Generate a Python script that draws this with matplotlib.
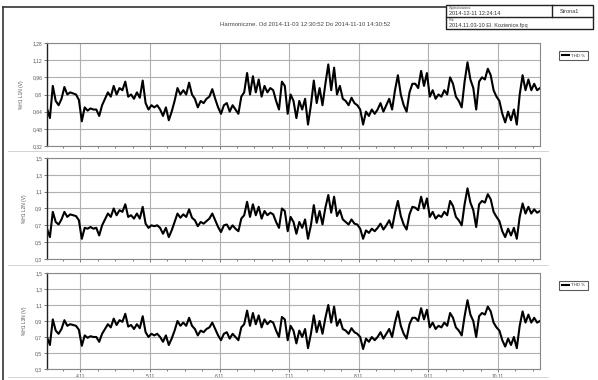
import matplotlib
matplotlib.use('Agg')
import matplotlib.pyplot as plt
import matplotlib.dates as mdates
from matplotlib.lines import Line2D
from matplotlib.patches import Rectangle
from matplotlib.ticker import FixedLocator, FuncFormatter
import pandas as pd

plt.rcParams['font.family'] = ['Liberation Sans', 'DejaVu Sans']

# pomiary co godzine
czas = pd.date_range('2014-11-03 12:30:52', '2014-11-10 14:30:52', freq='h')

thd_l1 = [
    0.67, 0.58, 0.88, 0.74, 0.70, 0.76, 0.87, 0.80, 0.82, 0.81,
    0.80, 0.75, 0.55, 0.68, 0.65, 0.67, 0.66, 0.66, 0.60, 0.70,
    0.76, 0.82, 0.78, 0.88, 0.80, 0.86, 0.84, 0.92, 0.78, 0.80,
    0.76, 0.82, 0.77, 0.93, 0.72, 0.66, 0.70, 0.68, 0.70, 0.66,
    0.60, 0.68, 0.56, 0.64, 0.74, 0.86, 0.80, 0.84, 0.80, 0.91,
    0.80, 0.76, 0.68, 0.74, 0.72, 0.76, 0.78, 0.85, 0.76, 0.68,
    0.62, 0.70, 0.72, 0.64, 0.70, 0.66, 0.62, 0.78, 0.82, 1.00,
    0.80, 0.97, 0.82, 0.94, 0.78, 0.88, 0.82, 0.86, 0.84, 0.74,
    0.66, 0.92, 0.88, 0.62, 0.80, 0.74, 0.58, 0.74, 0.66, 0.76,
    0.52, 0.70, 0.93, 0.72, 0.86, 0.70, 0.90, 1.08, 0.84, 1.05,
    0.80, 0.88, 0.76, 0.74, 0.70, 0.77, 0.72, 0.70, 0.66, 0.52,
    0.64, 0.60, 0.66, 0.62, 0.66, 0.72, 0.64, 0.70, 0.76, 0.66,
    0.84, 0.98, 0.80, 0.70, 0.64, 0.82, 0.90, 0.90, 0.86, 1.02,
    0.88, 1.00, 0.78, 0.84, 0.76, 0.80, 0.78, 0.84, 0.80, 0.96,
    0.90, 0.78, 0.74, 0.68, 0.92, 1.10, 0.94, 0.86, 0.66, 0.92,
    0.96, 0.94, 1.04, 0.98, 0.84, 0.78, 0.74, 0.62, 0.54, 0.64,
    0.56, 0.66, 0.52, 0.80, 0.98, 0.84, 0.94, 0.84, 0.90, 0.84, 0.86,
]
thd_l2 = [
    0.66, 0.56, 0.86, 0.74, 0.71, 0.77, 0.86, 0.80, 0.83, 0.82,
    0.81, 0.76, 0.54, 0.67, 0.66, 0.68, 0.66, 0.67, 0.58, 0.70,
    0.77, 0.84, 0.80, 0.90, 0.82, 0.88, 0.86, 0.95, 0.80, 0.82,
    0.78, 0.84, 0.78, 0.92, 0.72, 0.67, 0.70, 0.69, 0.70, 0.67,
    0.60, 0.67, 0.56, 0.64, 0.74, 0.84, 0.79, 0.83, 0.80, 0.89,
    0.79, 0.76, 0.69, 0.74, 0.72, 0.75, 0.78, 0.84, 0.76, 0.68,
    0.62, 0.70, 0.71, 0.65, 0.70, 0.66, 0.63, 0.78, 0.82, 0.98,
    0.80, 0.95, 0.82, 0.92, 0.78, 0.87, 0.82, 0.85, 0.83, 0.74,
    0.67, 0.90, 0.87, 0.63, 0.80, 0.74, 0.60, 0.74, 0.67, 0.77,
    0.54, 0.70, 0.94, 0.73, 0.87, 0.71, 0.91, 1.06, 0.85, 1.04,
    0.81, 0.88, 0.77, 0.74, 0.71, 0.77, 0.72, 0.71, 0.66, 0.54,
    0.64, 0.61, 0.66, 0.63, 0.67, 0.72, 0.65, 0.70, 0.76, 0.67,
    0.85, 0.99, 0.81, 0.71, 0.65, 0.83, 0.92, 0.91, 0.88, 1.04,
    0.90, 1.02, 0.80, 0.86, 0.78, 0.82, 0.80, 0.86, 0.82, 0.99,
    0.93, 0.80, 0.76, 0.70, 0.95, 1.14, 0.97, 0.88, 0.68, 0.95,
    0.99, 0.97, 1.07, 1.01, 0.86, 0.80, 0.75, 0.63, 0.56, 0.66,
    0.58, 0.67, 0.54, 0.80, 0.96, 0.84, 0.92, 0.84, 0.89, 0.85, 0.87,
]
thd_l3 = [
    0.70, 0.60, 0.92, 0.78, 0.74, 0.80, 0.91, 0.84, 0.86, 0.85,
    0.84, 0.79, 0.59, 0.72, 0.69, 0.71, 0.70, 0.70, 0.64, 0.74,
    0.80, 0.86, 0.82, 0.93, 0.85, 0.91, 0.89, 0.99, 0.83, 0.85,
    0.80, 0.86, 0.81, 0.96, 0.76, 0.70, 0.74, 0.72, 0.74, 0.70,
    0.64, 0.72, 0.60, 0.68, 0.78, 0.90, 0.84, 0.88, 0.84, 0.94,
    0.84, 0.80, 0.72, 0.78, 0.76, 0.80, 0.82, 0.88, 0.80, 0.72,
    0.66, 0.74, 0.76, 0.68, 0.74, 0.70, 0.66, 0.82, 0.86, 1.03,
    0.84, 1.00, 0.86, 0.97, 0.82, 0.92, 0.86, 0.90, 0.88, 0.78,
    0.70, 0.95, 0.92, 0.66, 0.84, 0.78, 0.62, 0.78, 0.70, 0.80,
    0.56, 0.74, 0.97, 0.76, 0.90, 0.74, 0.94, 1.10, 0.88, 1.08,
    0.84, 0.92, 0.80, 0.78, 0.74, 0.81, 0.76, 0.74, 0.70, 0.55,
    0.68, 0.64, 0.70, 0.66, 0.70, 0.76, 0.68, 0.74, 0.80, 0.70,
    0.88, 1.02, 0.84, 0.74, 0.68, 0.86, 0.94, 0.94, 0.90, 1.06,
    0.92, 1.04, 0.82, 0.88, 0.80, 0.84, 0.82, 0.88, 0.84, 1.00,
    0.94, 0.82, 0.78, 0.72, 0.96, 1.16, 0.98, 0.90, 0.70, 0.96,
    1.00, 0.98, 1.08, 1.02, 0.88, 0.82, 0.78, 0.66, 0.58, 0.68,
    0.60, 0.70, 0.56, 0.84, 1.02, 0.88, 0.98, 0.88, 0.94, 0.88, 0.90,
]

serie = [thd_l1, thd_l2, thd_l3]
opisy_osi = ['%H1 L1N (V)', '%H1 L2N (V)', '%H1 L3N (V)']
skala_l1 = [0.32, 0.48, 0.64, 0.80, 0.96, 1.12, 1.28]
skala_l23 = [0.3, 0.5, 0.7, 0.9, 1.1, 1.3, 1.5]
skale = [skala_l1, skala_l23, skala_l23]
z_legenda = [True, False, True]

tytul = 'Harmoniczne. Od 2014-11-03 12:30:52 Do 2014-11-10 14:30:52'

W, H = 598, 380
fig = plt.figure(figsize=(W / 100, H / 100), dpi=100)


def fx(px):
    return px / W


def fy(py):
    return 1 - py / H


# ramka strony i naglowek
szary = '#555555'
fig.add_artist(Line2D([fx(3), fx(3)], [fy(7), fy(380)], color='#333333', lw=1.2))
fig.add_artist(Line2D([fx(3), fx(446)], [fy(7), fy(7)], color='#333333', lw=1.2))
fig.add_artist(Rectangle((fx(446), fy(29)), fx(593) - fx(446), fy(5) - fy(29),
                         fill=False, ec='#222222', lw=1.0))
fig.add_artist(Line2D([fx(446), fx(593)], [fy(17), fy(17)], color='#222222', lw=1.0))
fig.add_artist(Line2D([fx(552), fx(552)], [fy(5), fy(17)], color='#222222', lw=1.0))
fig.text(fx(449), fy(8.5), 'Wydrukowano:', fontsize=2.5, color=szary, va='center')
fig.text(fx(449), fy(13.5), '2014-12-11 12:24:14', fontsize=4, color='#333333', va='center')
fig.text(fx(560), fy(11.5), 'Strona1', fontsize=4, color='#333333', va='center')
fig.text(fx(449), fy(20), 'Plik:', fontsize=2.5, color=szary, va='center')
fig.text(fx(449), fy(25), '2014.11.03-10 El. Kozienice.fpq', fontsize=4, color='#333333', va='center')
fig.text(fx(305), fy(25), tytul, fontsize=4.3, color='#444444', ha='center', va='center')

# cienkie linie oddzielajace wykresy
for yy in [151, 265, 377]:
    fig.add_artist(Line2D([fx(8), fx(548)], [fy(yy), fy(yy)], color='#cccccc', lw=0.6))

pozycje = [(43, 146), (158, 259), (273, 369)]
dni = FuncFormatter(lambda v, p: '%d.%d' % (mdates.num2date(v).day, mdates.num2date(v).month))

for i, ax_dane in enumerate(serie):
    gora, dol = pozycje[i]
    ax = fig.add_axes([fx(47), fy(dol), fx(540) - fx(47), fy(gora) - fy(dol)])
    ax.plot(czas, ax_dane, color='black', lw=1.5, label='THD %')
    ax.set_xlim(czas[0], czas[-1])
    ax.set_ylim(skale[i][0], skale[i][-1])
    ax.yaxis.set_major_locator(FixedLocator(skale[i]))
    ax.yaxis.set_major_formatter(FuncFormatter(lambda v, p: ('%g' % round(v, 2)).replace('.', ',')))
    ax.xaxis.set_major_locator(mdates.DayLocator())
    ax.xaxis.set_minor_locator(mdates.HourLocator(byhour=[6, 12, 18]))
    ax.xaxis.set_major_formatter(dni)
    if i < 2:
        ax.tick_params(axis='x', labelbottom=False)
    ax.grid(True, color='#b0b0b0', lw=0.8)
    ax.set_axisbelow(True)
    for s in ['top', 'right', 'bottom']:
        ax.spines[s].set_color('#888888')
        ax.spines[s].set_linewidth(0.8)
    ax.spines['left'].set_color('#222222')
    ax.spines['left'].set_linewidth(1.0)
    ax.tick_params(axis='both', which='major', labelsize=3.6, labelcolor=szary,
                   length=2, width=0.5, color='#444444', pad=1.5)
    ax.tick_params(axis='x', which='minor', length=1.5, width=0.5, color='#444444')
    ax.set_ylabel(opisy_osi[i], fontsize=3.5, color=szary, labelpad=6)
    if z_legenda[i]:
        leg = ax.legend(loc='upper left', bbox_to_anchor=(1.035, 0.94), fontsize=3.2,
                        handlelength=1.6, frameon=True, fancybox=False,
                        borderpad=0.5, handletextpad=0.6)
        leg.get_frame().set_edgecolor('#333333')
        leg.get_frame().set_linewidth(0.8)
        for t in leg.get_texts():
            t.set_color('#333333')

fig.savefig('out.png', dpi=100)
